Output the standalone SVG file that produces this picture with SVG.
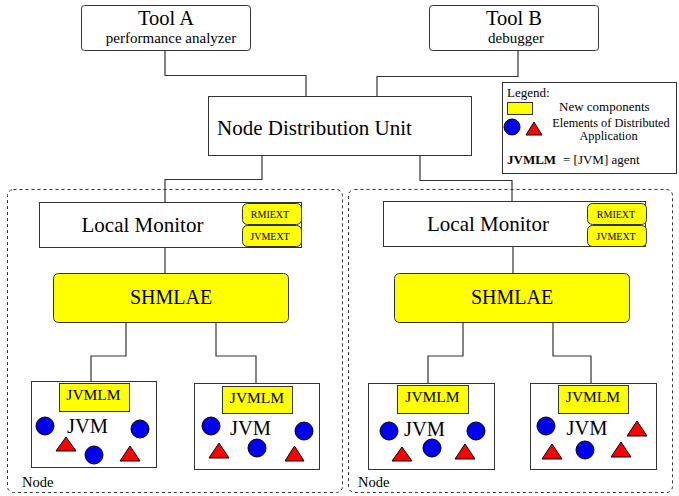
<svg xmlns="http://www.w3.org/2000/svg" width="679" height="496" viewBox="0 0 679 496" font-family="'Liberation Serif', serif">
<style>
.box{fill:#fff;stroke:#333;stroke-width:1}
.yel{fill:#ffff00;stroke:#333;stroke-width:1}
.dash{fill:none;stroke:#333;stroke-width:1;stroke-dasharray:3 3}
.con{fill:none;stroke:#333;stroke-width:1.2}
.c{fill:#0000ee;stroke:#000;stroke-width:1}
.t{fill:#ff0000;stroke:#000;stroke-width:1}
.mid{text-anchor:middle}
</style>
<g id="nodes-frames">
<rect class="dash" x="7.5" y="189.5" width="335" height="303" rx="6"/>
<rect class="dash" x="348.5" y="189.5" width="324" height="303" rx="6"/>
<text x="22" y="487" font-size="14.5" font-family="'Liberation Serif', serif">Node</text>
<text x="358" y="487" font-size="14.5" font-family="'Liberation Serif', serif">Node</text>
</g>
<g id="connectors">
<polyline class="con" points="165,50 165,75.5 306,75.5 306,96"/>
<polyline class="con" points="518,50 518,76.5 377,76.5 377,96"/>
<polyline class="con" points="262,155 262,179.5 165,179.5 165,202"/>
<polyline class="con" points="420,155 420,180.5 512,180.5 512,201"/>
<line class="con" x1="165" y1="247" x2="165" y2="273"/>
<line class="con" x1="513" y1="246" x2="513" y2="273"/>
<polyline class="con" points="126,322 126,356 91,356 91,383"/>
<polyline class="con" points="216,322 216,356 256,356 256,386"/>
<polyline class="con" points="463,322 463,356 428,356 428,385"/>
<polyline class="con" points="553,322 553,356 591,356 591,385"/>
</g>
<g id="toolA" font-family="'Liberation Serif', serif">
<rect class="box" x="81.5" y="5.5" width="169" height="45" rx="3"/>
<text class="mid" x="166" y="25" font-size="20.5">Tool A</text>
<text class="mid" x="171" y="43" font-size="15">performance analyzer</text>
</g>
<g id="toolB" font-family="'Liberation Serif', serif">
<rect class="box" x="429.5" y="5.5" width="169" height="45" rx="3"/>
<text class="mid" x="514" y="25" font-size="20.5">Tool B</text>
<text class="mid" x="516" y="43" font-size="15">debugger</text>
</g>
<g id="ndu" font-family="'Liberation Serif', serif">
<rect class="box" x="208.5" y="96.5" width="263" height="59"/>
<text class="mid" x="314.5" y="135" font-size="21">Node Distribution Unit</text>
</g>
<g id="legend" font-family="'Liberation Serif', serif">
<rect class="box" x="502.5" y="82.5" width="174" height="91"/>
<text x="507" y="97" font-size="13">Legend:</text>
<rect class="yel" x="507.5" y="102.5" width="25" height="12"/>
<text x="559" y="111" font-size="13">New components</text>
<circle class="c" cx="512" cy="127" r="8"/>
<polygon class="t" points="526,135 542,135 534,122"/>
<text class="mid" x="611" y="126.5" font-size="12.3">Elements of Distributed</text>
<text class="mid" x="608.5" y="140" font-size="12.3">Application</text>
<text x="507" y="164" font-size="13" font-weight="bold">JVMLM</text>
<text x="563" y="164" font-size="13">= [JVM] agent</text>
</g>
<g id="lm-left" font-family="'Liberation Serif', serif">
<rect class="box" x="39.5" y="202.5" width="262" height="45"/>
<text class="mid" x="142.5" y="232" font-size="21">Local Monitor</text>
<rect class="yel" x="242.5" y="203.5" width="59" height="21" rx="5"/>
<text class="mid" x="270" y="218" font-size="10">RMIEXT</text>
<rect class="yel" x="242.5" y="225.5" width="59" height="21" rx="5"/>
<text class="mid" x="270" y="240" font-size="10">JVMEXT</text>
</g>
<g id="lm-right" font-family="'Liberation Serif', serif">
<rect class="box" x="383.5" y="201.5" width="262" height="45"/>
<text class="mid" x="488" y="231" font-size="21">Local Monitor</text>
<rect class="yel" x="587.5" y="203.5" width="59" height="21" rx="5"/>
<text class="mid" x="616" y="218" font-size="10">RMIEXT</text>
<rect class="yel" x="587.5" y="225.5" width="59" height="21" rx="5"/>
<text class="mid" x="616" y="240" font-size="10">JVMEXT</text>
</g>
<g id="shmlae-left" font-family="'Liberation Serif', serif">
<rect class="yel" x="53.5" y="273.5" width="235" height="49" rx="5"/>
<text class="mid" x="171" y="304" font-size="20">SHMLAE</text>
</g>
<g id="shmlae-right" font-family="'Liberation Serif', serif">
<rect class="yel" x="394.5" y="273.5" width="235" height="49" rx="5"/>
<text class="mid" x="512" y="304" font-size="20">SHMLAE</text>
</g>
<g id="jvm1" font-family="'Liberation Serif', serif">
<rect class="box" x="31.5" y="381.5" width="125" height="86"/>
<rect class="yel" x="59.5" y="383.5" width="70" height="28"/>
<text class="mid" x="93.5" y="400" font-size="15.5">JVMLM</text>
<text class="mid" x="87.5" y="433" font-size="20.5">JVM</text>
<circle class="c" cx="45" cy="426" r="9"/>
<circle class="c" cx="140" cy="429" r="9"/>
<circle class="c" cx="94" cy="455" r="9"/>
<polygon class="t" points="56,451 76,451 66,437"/>
<polygon class="t" points="120,461 140,461 130,446"/>
</g>
<g id="jvm2" font-family="'Liberation Serif', serif">
<rect class="box" x="194.5" y="383.5" width="125" height="86"/>
<rect class="yel" x="222.5" y="386.5" width="70" height="27"/>
<text class="mid" x="257" y="402.5" font-size="15.5">JVMLM</text>
<text class="mid" x="250.5" y="435" font-size="20.5">JVM</text>
<circle class="c" cx="211" cy="426" r="9"/>
<circle class="c" cx="304" cy="431" r="9"/>
<circle class="c" cx="257" cy="448" r="9"/>
<polygon class="t" points="209,458 229,458 219,443"/>
<polygon class="t" points="285,461 304,461 294.5,446"/>
</g>
<g id="jvm3" font-family="'Liberation Serif', serif">
<rect class="box" x="368.5" y="383.5" width="126" height="86"/>
<rect class="yel" x="397.5" y="385.5" width="71" height="28"/>
<text class="mid" x="432.5" y="402" font-size="15.5">JVMLM</text>
<text class="mid" x="424.5" y="436" font-size="20.5">JVM</text>
<circle class="c" cx="389" cy="431" r="9"/>
<circle class="c" cx="476" cy="431" r="9"/>
<circle class="c" cx="432" cy="448" r="9"/>
<polygon class="t" points="392,461 412,461 402,447"/>
<polygon class="t" points="455,459 475,459 465,444"/>
</g>
<g id="jvm4" font-family="'Liberation Serif', serif">
<rect class="box" x="530.5" y="383.5" width="126" height="86"/>
<rect class="yel" x="558.5" y="385.5" width="70" height="28"/>
<text class="mid" x="593" y="402" font-size="15.5">JVMLM</text>
<text class="mid" x="587" y="435" font-size="20.5">JVM</text>
<circle class="c" cx="546" cy="426" r="9"/>
<circle class="c" cx="585" cy="450" r="9"/>
<polygon class="t" points="627,436 647,436 637,421"/>
<polygon class="t" points="542,459 562,459 552,444"/>
<polygon class="t" points="611,457 631,457 621,442"/>
</g>
</svg>
